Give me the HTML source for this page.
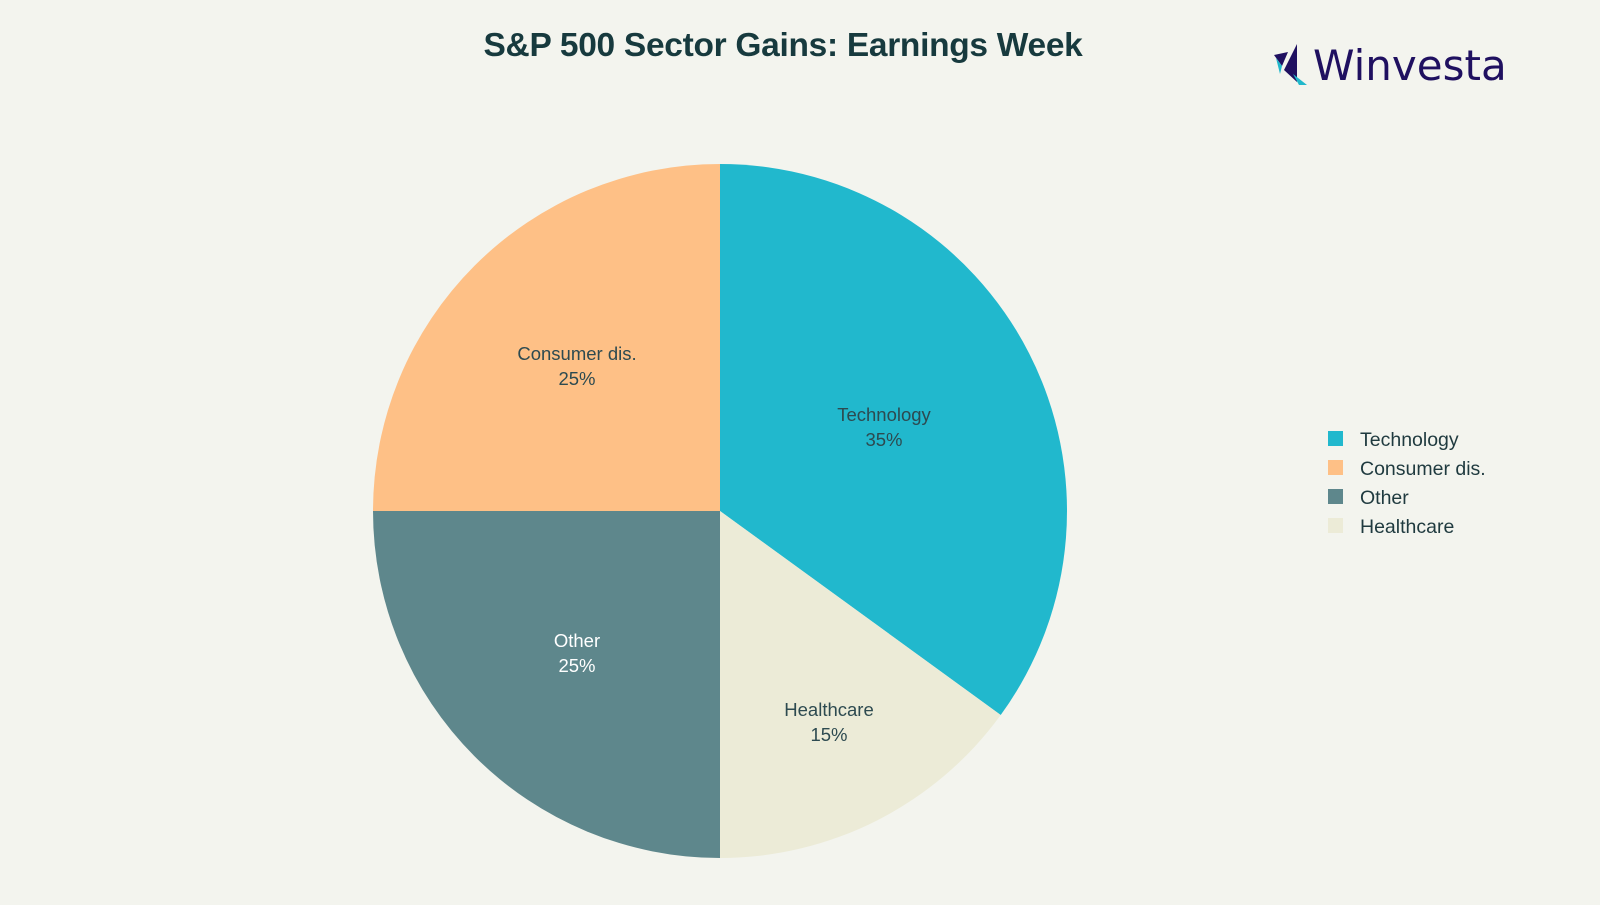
<!DOCTYPE html>
<html><head><meta charset="utf-8"><style>
body{margin:0;width:1600px;height:900px;background:#f3f4ee;overflow:hidden;font-family:"Liberation Sans",sans-serif}
</style></head><body>
<svg width="1600" height="900" viewBox="0 0 1600 900" xmlns="http://www.w3.org/2000/svg">
<text x="783" y="56" text-anchor="middle" font-family="Liberation Sans, sans-serif" font-weight="bold" font-size="33.5" fill="#173a3e" letter-spacing="-0.3">S&amp;P 500 Sector Gains: Earnings Week</text>
<!-- logo -->
<polygon points="1274,55 1288,52 1282,66" fill="#1f1060"/>
<polygon points="1276,58 1282,66 1280,74" fill="#20b8cb"/>
<polygon points="1297,44 1297,82 1284,70" fill="#1f1060"/>
<polygon points="1293,74 1307,85 1299,85" fill="#20b8cb"/>
<text x="1313" y="80" font-family="DejaVu Sans, sans-serif" font-size="42" fill="#1f1060">Winvesta</text>
<!-- pie -->
<path d="M720,511 L720,164 A347,347 0 0 1 1000.7,715 Z" fill="#21b8cd"/>
<path d="M720,511 L1000.7,715 A347,347 0 0 1 720,858 Z" fill="#ecebd7"/>
<path d="M720,511 L720,858 A347,347 0 0 1 373,511 Z" fill="#5e878c"/>
<path d="M720,511 L373,511 A347,347 0 0 1 720,164 Z" fill="#fec086"/>
<g font-family="Liberation Sans, sans-serif" font-size="18.5" text-anchor="middle">
<text x="884" y="421" fill="#2d4a50">Technology</text><text x="884" y="446" fill="#2d4a50">35%</text>
<text x="577" y="360" fill="#2d4a50">Consumer dis.</text><text x="577" y="385" fill="#2d4a50">25%</text>
<text x="577" y="647" fill="#ffffff">Other</text><text x="577" y="672" fill="#ffffff">25%</text>
<text x="829" y="716" fill="#2d4a50">Healthcare</text><text x="829" y="741" fill="#2d4a50">15%</text>
</g>
<g font-family="Liberation Sans, sans-serif" font-size="19.5" fill="#1f3a3f">
<rect x="1328" y="431" width="15" height="15" fill="#21b8cd"/><text x="1360" y="446">Technology</text>
<rect x="1328" y="460" width="15" height="15" fill="#fec086"/><text x="1360" y="475">Consumer dis.</text>
<rect x="1328" y="489" width="15" height="15" fill="#5e878c"/><text x="1360" y="504">Other</text>
<rect x="1328" y="518" width="15" height="15" fill="#ecebd7"/><text x="1360" y="533">Healthcare</text>
</g>
</svg>
</body></html>
